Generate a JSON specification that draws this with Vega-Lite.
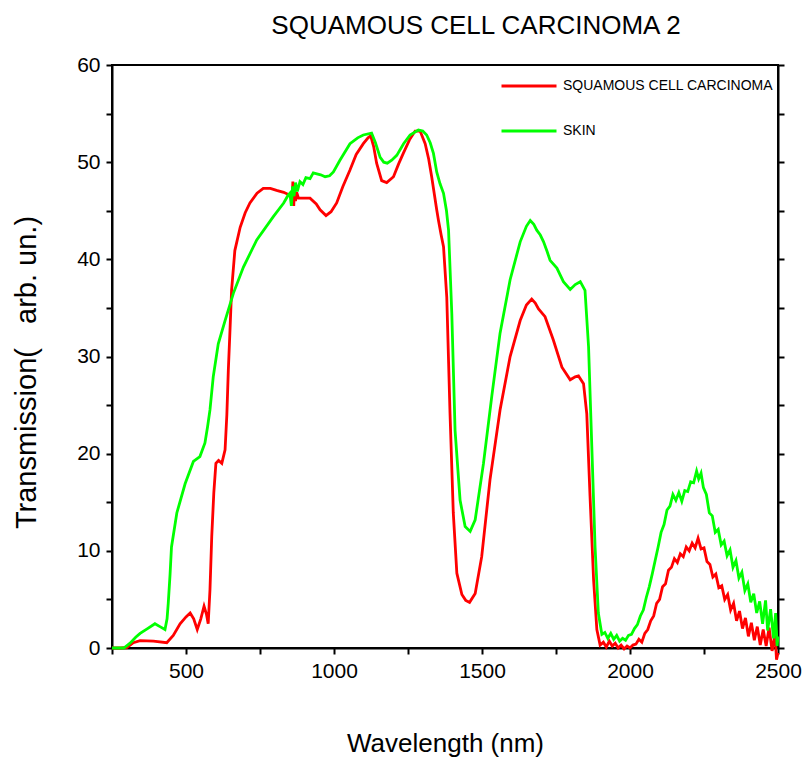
{
  "$schema": "https://vega.github.io/schema/vega-lite/v6.json",
  "width": 666,
  "height": 583,
  "autosize": "none",
  "padding": {"left": 112, "top": 65, "right": 25, "bottom": 114},
  "background": "white",
  "config": {
    "font": "Liberation Sans",
    "view": {"stroke": "black", "strokeWidth": 2},
    "axis": {"grid": false, "domainColor": "black", "domainWidth": 2, "tickColor": "black", "tickWidth": 2, "tickSize": 6, "labelColor": "black", "titleColor": "black", "labelFont": "Liberation Sans", "titleFont": "Liberation Sans", "labelFontSize": 21, "titleFontSize": 26, "titleFontWeight": "normal"}
  },
  "title": {"text": "SQUAMOUS CELL CARCINOMA 2", "font": "Liberation Sans", "fontSize": 26, "fontWeight": "normal", "color": "black", "anchor": "middle", "dx": 31, "offset": 15, "frame": "group"},
  "data": {"values": [
    {"w":250,"t":0,"s":"SQUAMOUS CELL CARCINOMA"},{"w":280,"t":0,"s":"SQUAMOUS CELL CARCINOMA"},{"w":300,"t":0.05,"s":"SQUAMOUS CELL CARCINOMA"},{"w":322,"t":0.55,"s":"SQUAMOUS CELL CARCINOMA"},{"w":345,"t":0.75,"s":"SQUAMOUS CELL CARCINOMA"},{"w":390,"t":0.7,"s":"SQUAMOUS CELL CARCINOMA"},{"w":435,"t":0.55,"s":"SQUAMOUS CELL CARCINOMA"},{"w":457,"t":1.3,"s":"SQUAMOUS CELL CARCINOMA"},{"w":480,"t":2.5,"s":"SQUAMOUS CELL CARCINOMA"},{"w":500,"t":3.2,"s":"SQUAMOUS CELL CARCINOMA"},{"w":514,"t":3.6,"s":"SQUAMOUS CELL CARCINOMA"},{"w":526,"t":3.0,"s":"SQUAMOUS CELL CARCINOMA"},{"w":538,"t":1.9,"s":"SQUAMOUS CELL CARCINOMA"},{"w":550,"t":3.0,"s":"SQUAMOUS CELL CARCINOMA"},{"w":561,"t":4.3,"s":"SQUAMOUS CELL CARCINOMA"},{"w":569,"t":3.5,"s":"SQUAMOUS CELL CARCINOMA"},{"w":575,"t":2.5,"s":"SQUAMOUS CELL CARCINOMA"},{"w":581,"t":6,"s":"SQUAMOUS CELL CARCINOMA"},{"w":587,"t":11.5,"s":"SQUAMOUS CELL CARCINOMA"},{"w":594,"t":16,"s":"SQUAMOUS CELL CARCINOMA"},{"w":601,"t":19.0,"s":"SQUAMOUS CELL CARCINOMA"},{"w":610,"t":19.3,"s":"SQUAMOUS CELL CARCINOMA"},{"w":621,"t":19.0,"s":"SQUAMOUS CELL CARCINOMA"},{"w":632,"t":20.4,"s":"SQUAMOUS CELL CARCINOMA"},{"w":638,"t":24,"s":"SQUAMOUS CELL CARCINOMA"},{"w":643,"t":28.6,"s":"SQUAMOUS CELL CARCINOMA"},{"w":649,"t":33,"s":"SQUAMOUS CELL CARCINOMA"},{"w":654,"t":36.8,"s":"SQUAMOUS CELL CARCINOMA"},{"w":665,"t":40.9,"s":"SQUAMOUS CELL CARCINOMA"},{"w":683,"t":43.3,"s":"SQUAMOUS CELL CARCINOMA"},{"w":700,"t":44.8,"s":"SQUAMOUS CELL CARCINOMA"},{"w":716,"t":45.8,"s":"SQUAMOUS CELL CARCINOMA"},{"w":740,"t":46.8,"s":"SQUAMOUS CELL CARCINOMA"},{"w":761,"t":47.3,"s":"SQUAMOUS CELL CARCINOMA"},{"w":785,"t":47.3,"s":"SQUAMOUS CELL CARCINOMA"},{"w":806,"t":47.1,"s":"SQUAMOUS CELL CARCINOMA"},{"w":830,"t":46.9,"s":"SQUAMOUS CELL CARCINOMA"},{"w":851,"t":46.6,"s":"SQUAMOUS CELL CARCINOMA"},{"w":855,"t":46.9,"s":"SQUAMOUS CELL CARCINOMA"},{"w":858,"t":45.8,"s":"SQUAMOUS CELL CARCINOMA"},{"w":861,"t":48.0,"s":"SQUAMOUS CELL CARCINOMA"},{"w":864,"t":45.5,"s":"SQUAMOUS CELL CARCINOMA"},{"w":867,"t":47.6,"s":"SQUAMOUS CELL CARCINOMA"},{"w":870,"t":46.0,"s":"SQUAMOUS CELL CARCINOMA"},{"w":874,"t":46.9,"s":"SQUAMOUS CELL CARCINOMA"},{"w":880,"t":46.3,"s":"SQUAMOUS CELL CARCINOMA"},{"w":900,"t":46.3,"s":"SQUAMOUS CELL CARCINOMA"},{"w":919,"t":46.3,"s":"SQUAMOUS CELL CARCINOMA"},{"w":940,"t":45.7,"s":"SQUAMOUS CELL CARCINOMA"},{"w":953,"t":45.1,"s":"SQUAMOUS CELL CARCINOMA"},{"w":973,"t":44.5,"s":"SQUAMOUS CELL CARCINOMA"},{"w":990,"t":44.9,"s":"SQUAMOUS CELL CARCINOMA"},{"w":1009,"t":45.8,"s":"SQUAMOUS CELL CARCINOMA"},{"w":1030,"t":47.5,"s":"SQUAMOUS CELL CARCINOMA"},{"w":1054,"t":49.2,"s":"SQUAMOUS CELL CARCINOMA"},{"w":1075,"t":50.8,"s":"SQUAMOUS CELL CARCINOMA"},{"w":1099,"t":51.9,"s":"SQUAMOUS CELL CARCINOMA"},{"w":1115,"t":52.5,"s":"SQUAMOUS CELL CARCINOMA"},{"w":1124,"t":52.7,"s":"SQUAMOUS CELL CARCINOMA"},{"w":1134,"t":51.6,"s":"SQUAMOUS CELL CARCINOMA"},{"w":1144,"t":49.9,"s":"SQUAMOUS CELL CARCINOMA"},{"w":1161,"t":48.1,"s":"SQUAMOUS CELL CARCINOMA"},{"w":1178,"t":47.9,"s":"SQUAMOUS CELL CARCINOMA"},{"w":1201,"t":48.5,"s":"SQUAMOUS CELL CARCINOMA"},{"w":1218,"t":49.8,"s":"SQUAMOUS CELL CARCINOMA"},{"w":1234,"t":50.9,"s":"SQUAMOUS CELL CARCINOMA"},{"w":1255,"t":52.3,"s":"SQUAMOUS CELL CARCINOMA"},{"w":1274,"t":53.2,"s":"SQUAMOUS CELL CARCINOMA"},{"w":1291,"t":53.2,"s":"SQUAMOUS CELL CARCINOMA"},{"w":1308,"t":51.9,"s":"SQUAMOUS CELL CARCINOMA"},{"w":1320,"t":50.3,"s":"SQUAMOUS CELL CARCINOMA"},{"w":1330,"t":48.5,"s":"SQUAMOUS CELL CARCINOMA"},{"w":1347,"t":45.1,"s":"SQUAMOUS CELL CARCINOMA"},{"w":1353,"t":44.0,"s":"SQUAMOUS CELL CARCINOMA"},{"w":1362,"t":42.5,"s":"SQUAMOUS CELL CARCINOMA"},{"w":1370,"t":41.3,"s":"SQUAMOUS CELL CARCINOMA"},{"w":1381,"t":36.1,"s":"SQUAMOUS CELL CARCINOMA"},{"w":1392,"t":24.1,"s":"SQUAMOUS CELL CARCINOMA"},{"w":1403,"t":13.9,"s":"SQUAMOUS CELL CARCINOMA"},{"w":1415,"t":7.7,"s":"SQUAMOUS CELL CARCINOMA"},{"w":1432,"t":5.5,"s":"SQUAMOUS CELL CARCINOMA"},{"w":1445,"t":4.9,"s":"SQUAMOUS CELL CARCINOMA"},{"w":1458,"t":4.7,"s":"SQUAMOUS CELL CARCINOMA"},{"w":1477,"t":5.6,"s":"SQUAMOUS CELL CARCINOMA"},{"w":1499,"t":9.4,"s":"SQUAMOUS CELL CARCINOMA"},{"w":1527,"t":17.3,"s":"SQUAMOUS CELL CARCINOMA"},{"w":1561,"t":24.5,"s":"SQUAMOUS CELL CARCINOMA"},{"w":1595,"t":30.0,"s":"SQUAMOUS CELL CARCINOMA"},{"w":1629,"t":33.7,"s":"SQUAMOUS CELL CARCINOMA"},{"w":1650,"t":35.3,"s":"SQUAMOUS CELL CARCINOMA"},{"w":1668,"t":35.9,"s":"SQUAMOUS CELL CARCINOMA"},{"w":1680,"t":35.5,"s":"SQUAMOUS CELL CARCINOMA"},{"w":1691,"t":34.9,"s":"SQUAMOUS CELL CARCINOMA"},{"w":1713,"t":34.1,"s":"SQUAMOUS CELL CARCINOMA"},{"w":1741,"t":31.7,"s":"SQUAMOUS CELL CARCINOMA"},{"w":1770,"t":28.9,"s":"SQUAMOUS CELL CARCINOMA"},{"w":1798,"t":27.6,"s":"SQUAMOUS CELL CARCINOMA"},{"w":1815,"t":27.9,"s":"SQUAMOUS CELL CARCINOMA"},{"w":1826,"t":28.0,"s":"SQUAMOUS CELL CARCINOMA"},{"w":1843,"t":27.2,"s":"SQUAMOUS CELL CARCINOMA"},{"w":1854,"t":24.1,"s":"SQUAMOUS CELL CARCINOMA"},{"w":1865,"t":15.6,"s":"SQUAMOUS CELL CARCINOMA"},{"w":1877,"t":7.0,"s":"SQUAMOUS CELL CARCINOMA"},{"w":1888,"t":1.9,"s":"SQUAMOUS CELL CARCINOMA"},{"w":1899,"t":0.3,"s":"SQUAMOUS CELL CARCINOMA"},
    {"w":1910,"t":0.6,"s":"SQUAMOUS CELL CARCINOMA"},{"w":1920,"t":0.1,"s":"SQUAMOUS CELL CARCINOMA"},{"w":1930,"t":0.7,"s":"SQUAMOUS CELL CARCINOMA"},{"w":1940,"t":0.2,"s":"SQUAMOUS CELL CARCINOMA"},{"w":1950,"t":0.5,"s":"SQUAMOUS CELL CARCINOMA"},{"w":1960,"t":0.0,"s":"SQUAMOUS CELL CARCINOMA"},{"w":1970,"t":0.3,"s":"SQUAMOUS CELL CARCINOMA"},{"w":1980,"t":-0.1,"s":"SQUAMOUS CELL CARCINOMA"},{"w":1990,"t":0.2,"s":"SQUAMOUS CELL CARCINOMA"},{"w":2000,"t":0.0,"s":"SQUAMOUS CELL CARCINOMA"},{"w":2010,"t":0.3,"s":"SQUAMOUS CELL CARCINOMA"},{"w":2020,"t":0.4,"s":"SQUAMOUS CELL CARCINOMA"},{"w":2030,"t":0.9,"s":"SQUAMOUS CELL CARCINOMA"},{"w":2040,"t":0.6,"s":"SQUAMOUS CELL CARCINOMA"},{"w":2050,"t":1.5,"s":"SQUAMOUS CELL CARCINOMA"},{"w":2060,"t":1.9,"s":"SQUAMOUS CELL CARCINOMA"},{"w":2070,"t":2.8,"s":"SQUAMOUS CELL CARCINOMA"},{"w":2080,"t":3.3,"s":"SQUAMOUS CELL CARCINOMA"},{"w":2090,"t":4.6,"s":"SQUAMOUS CELL CARCINOMA"},{"w":2100,"t":5.0,"s":"SQUAMOUS CELL CARCINOMA"},{"w":2110,"t":6.3,"s":"SQUAMOUS CELL CARCINOMA"},{"w":2120,"t":6.6,"s":"SQUAMOUS CELL CARCINOMA"},{"w":2130,"t":8.0,"s":"SQUAMOUS CELL CARCINOMA"},{"w":2140,"t":8.3,"s":"SQUAMOUS CELL CARCINOMA"},{"w":2150,"t":9.2,"s":"SQUAMOUS CELL CARCINOMA"},{"w":2160,"t":8.8,"s":"SQUAMOUS CELL CARCINOMA"},{"w":2170,"t":9.7,"s":"SQUAMOUS CELL CARCINOMA"},{"w":2180,"t":9.4,"s":"SQUAMOUS CELL CARCINOMA"},{"w":2190,"t":10.4,"s":"SQUAMOUS CELL CARCINOMA"},{"w":2200,"t":10.0,"s":"SQUAMOUS CELL CARCINOMA"},{"w":2210,"t":10.8,"s":"SQUAMOUS CELL CARCINOMA"},{"w":2220,"t":10.3,"s":"SQUAMOUS CELL CARCINOMA"},{"w":2230,"t":11.3,"s":"SQUAMOUS CELL CARCINOMA"},{"w":2240,"t":10.2,"s":"SQUAMOUS CELL CARCINOMA"},{"w":2250,"t":10.3,"s":"SQUAMOUS CELL CARCINOMA"},{"w":2260,"t":8.9,"s":"SQUAMOUS CELL CARCINOMA"},{"w":2270,"t":8.6,"s":"SQUAMOUS CELL CARCINOMA"},{"w":2280,"t":7.3,"s":"SQUAMOUS CELL CARCINOMA"},{"w":2290,"t":7.6,"s":"SQUAMOUS CELL CARCINOMA"},{"w":2300,"t":6.2,"s":"SQUAMOUS CELL CARCINOMA"},{"w":2310,"t":6.4,"s":"SQUAMOUS CELL CARCINOMA"},{"w":2320,"t":5.0,"s":"SQUAMOUS CELL CARCINOMA"},{"w":2330,"t":5.5,"s":"SQUAMOUS CELL CARCINOMA"},{"w":2340,"t":3.9,"s":"SQUAMOUS CELL CARCINOMA"},{"w":2350,"t":4.6,"s":"SQUAMOUS CELL CARCINOMA"},{"w":2360,"t":2.8,"s":"SQUAMOUS CELL CARCINOMA"},{"w":2370,"t":3.8,"s":"SQUAMOUS CELL CARCINOMA"},{"w":2380,"t":2.0,"s":"SQUAMOUS CELL CARCINOMA"},{"w":2390,"t":3.1,"s":"SQUAMOUS CELL CARCINOMA"},{"w":2400,"t":1.2,"s":"SQUAMOUS CELL CARCINOMA"},{"w":2410,"t":2.6,"s":"SQUAMOUS CELL CARCINOMA"},{"w":2420,"t":0.8,"s":"SQUAMOUS CELL CARCINOMA"},{"w":2430,"t":2.2,"s":"SQUAMOUS CELL CARCINOMA"},{"w":2440,"t":0.3,"s":"SQUAMOUS CELL CARCINOMA"},{"w":2450,"t":1.9,"s":"SQUAMOUS CELL CARCINOMA"},{"w":2460,"t":0.2,"s":"SQUAMOUS CELL CARCINOMA"},{"w":2470,"t":2.1,"s":"SQUAMOUS CELL CARCINOMA"},{"w":2480,"t":-0.3,"s":"SQUAMOUS CELL CARCINOMA"},{"w":2490,"t":1.5,"s":"SQUAMOUS CELL CARCINOMA"},{"w":2495,"t":-1.2,"s":"SQUAMOUS CELL CARCINOMA"},{"w":2500,"t":-0.5,"s":"SQUAMOUS CELL CARCINOMA"},
    {"w":250,"t":0,"s":"SKIN"},{"w":290,"t":0,"s":"SKIN"},{"w":311,"t":0.5,"s":"SKIN"},{"w":330,"t":1.1,"s":"SKIN"},{"w":345,"t":1.5,"s":"SKIN"},{"w":370,"t":2.0,"s":"SKIN"},{"w":395,"t":2.5,"s":"SKIN"},{"w":412,"t":2.2,"s":"SKIN"},{"w":429,"t":1.9,"s":"SKIN"},{"w":436,"t":3,"s":"SKIN"},{"w":440,"t":4.6,"s":"SKIN"},{"w":446,"t":7.5,"s":"SKIN"},{"w":451,"t":10.4,"s":"SKIN"},{"w":469,"t":13.9,"s":"SKIN"},{"w":497,"t":16.9,"s":"SKIN"},{"w":525,"t":19.2,"s":"SKIN"},{"w":547,"t":19.7,"s":"SKIN"},{"w":564,"t":21.1,"s":"SKIN"},{"w":573,"t":22.8,"s":"SKIN"},{"w":581,"t":24.5,"s":"SKIN"},{"w":592,"t":27.9,"s":"SKIN"},{"w":609,"t":31.3,"s":"SKIN"},{"w":632,"t":33.7,"s":"SKIN"},{"w":660,"t":36.5,"s":"SKIN"},{"w":694,"t":39.2,"s":"SKIN"},{"w":739,"t":42.0,"s":"SKIN"},{"w":795,"t":44.4,"s":"SKIN"},{"w":830,"t":45.8,"s":"SKIN"},{"w":845,"t":46.6,"s":"SKIN"},{"w":851,"t":46.8,"s":"SKIN"},{"w":856,"t":45.5,"s":"SKIN"},{"w":860,"t":47.5,"s":"SKIN"},{"w":865,"t":46.5,"s":"SKIN"},{"w":870,"t":47.9,"s":"SKIN"},{"w":876,"t":47.0,"s":"SKIN"},{"w":885,"t":48.0,"s":"SKIN"},{"w":895,"t":47.7,"s":"SKIN"},{"w":905,"t":48.4,"s":"SKIN"},{"w":919,"t":48.3,"s":"SKIN"},{"w":930,"t":48.9,"s":"SKIN"},{"w":942,"t":48.8,"s":"SKIN"},{"w":955,"t":48.7,"s":"SKIN"},{"w":970,"t":48.5,"s":"SKIN"},{"w":985,"t":48.6,"s":"SKIN"},{"w":998,"t":49.0,"s":"SKIN"},{"w":1020,"t":50.2,"s":"SKIN"},{"w":1054,"t":51.9,"s":"SKIN"},{"w":1080,"t":52.5,"s":"SKIN"},{"w":1099,"t":52.8,"s":"SKIN"},{"w":1127,"t":53.0,"s":"SKIN"},{"w":1140,"t":52.0,"s":"SKIN"},{"w":1156,"t":50.5,"s":"SKIN"},{"w":1168,"t":50.0,"s":"SKIN"},{"w":1180,"t":49.9,"s":"SKIN"},{"w":1195,"t":50.2,"s":"SKIN"},{"w":1212,"t":50.7,"s":"SKIN"},{"w":1235,"t":51.9,"s":"SKIN"},{"w":1257,"t":52.8,"s":"SKIN"},{"w":1285,"t":53.3,"s":"SKIN"},{"w":1300,"t":53.2,"s":"SKIN"},{"w":1313,"t":52.8,"s":"SKIN"},{"w":1325,"t":52.0,"s":"SKIN"},{"w":1336,"t":50.9,"s":"SKIN"},{"w":1347,"t":49.0,"s":"SKIN"},{"w":1358,"t":47.8,"s":"SKIN"},{"w":1370,"t":46.8,"s":"SKIN"},{"w":1380,"t":45.0,"s":"SKIN"},{"w":1387,"t":43.0,"s":"SKIN"},{"w":1398,"t":34.4,"s":"SKIN"},{"w":1409,"t":22.4,"s":"SKIN"},{"w":1426,"t":15.2,"s":"SKIN"},{"w":1443,"t":12.5,"s":"SKIN"},{"w":1460,"t":12.0,"s":"SKIN"},{"w":1477,"t":13.2,"s":"SKIN"},{"w":1505,"t":19.0,"s":"SKIN"},{"w":1533,"t":25.9,"s":"SKIN"},{"w":1561,"t":32.4,"s":"SKIN"},{"w":1595,"t":37.9,"s":"SKIN"},{"w":1629,"t":41.8,"s":"SKIN"},{"w":1650,"t":43.4,"s":"SKIN"},{"w":1663,"t":44.0,"s":"SKIN"},{"w":1675,"t":43.6,"s":"SKIN"},{"w":1685,"t":43.0,"s":"SKIN"},{"w":1697,"t":42.5,"s":"SKIN"},{"w":1708,"t":41.8,"s":"SKIN"},{"w":1720,"t":40.8,"s":"SKIN"},{"w":1730,"t":39.9,"s":"SKIN"},{"w":1753,"t":39.1,"s":"SKIN"},{"w":1775,"t":37.7,"s":"SKIN"},{"w":1798,"t":36.9,"s":"SKIN"},{"w":1815,"t":37.4,"s":"SKIN"},{"w":1832,"t":37.7,"s":"SKIN"},{"w":1848,"t":36.8,"s":"SKIN"},{"w":1860,"t":31.0,"s":"SKIN"},{"w":1871,"t":20.7,"s":"SKIN"},{"w":1882,"t":10.4,"s":"SKIN"},{"w":1893,"t":3.6,"s":"SKIN"},{"w":1905,"t":1.4,"s":"SKIN"},
    {"w":1915,"t":1.6,"s":"SKIN"},{"w":1925,"t":1.0,"s":"SKIN"},{"w":1935,"t":1.5,"s":"SKIN"},{"w":1945,"t":0.9,"s":"SKIN"},{"w":1955,"t":1.3,"s":"SKIN"},{"w":1965,"t":0.7,"s":"SKIN"},{"w":1975,"t":1.0,"s":"SKIN"},{"w":1985,"t":0.8,"s":"SKIN"},{"w":1995,"t":1.3,"s":"SKIN"},{"w":2005,"t":1.4,"s":"SKIN"},{"w":2015,"t":2.0,"s":"SKIN"},{"w":2025,"t":2.4,"s":"SKIN"},{"w":2035,"t":3.3,"s":"SKIN"},{"w":2045,"t":3.9,"s":"SKIN"},{"w":2055,"t":5.2,"s":"SKIN"},{"w":2065,"t":6.3,"s":"SKIN"},{"w":2075,"t":7.6,"s":"SKIN"},{"w":2085,"t":9.0,"s":"SKIN"},{"w":2095,"t":10.4,"s":"SKIN"},{"w":2105,"t":11.9,"s":"SKIN"},{"w":2115,"t":12.7,"s":"SKIN"},{"w":2125,"t":14.2,"s":"SKIN"},{"w":2135,"t":14.6,"s":"SKIN"},{"w":2145,"t":15.8,"s":"SKIN"},{"w":2155,"t":15.2,"s":"SKIN"},{"w":2165,"t":16.0,"s":"SKIN"},{"w":2175,"t":15.1,"s":"SKIN"},{"w":2185,"t":16.2,"s":"SKIN"},{"w":2195,"t":16.1,"s":"SKIN"},{"w":2205,"t":17.1,"s":"SKIN"},{"w":2215,"t":17.0,"s":"SKIN"},{"w":2225,"t":18.2,"s":"SKIN"},{"w":2232,"t":17.4,"s":"SKIN"},{"w":2240,"t":18.0,"s":"SKIN"},{"w":2248,"t":16.5,"s":"SKIN"},{"w":2258,"t":15.8,"s":"SKIN"},{"w":2268,"t":13.9,"s":"SKIN"},{"w":2278,"t":13.6,"s":"SKIN"},{"w":2288,"t":11.9,"s":"SKIN"},{"w":2298,"t":12.2,"s":"SKIN"},{"w":2308,"t":10.6,"s":"SKIN"},{"w":2318,"t":11.0,"s":"SKIN"},{"w":2328,"t":9.5,"s":"SKIN"},{"w":2338,"t":10.1,"s":"SKIN"},{"w":2348,"t":8.3,"s":"SKIN"},{"w":2358,"t":9.0,"s":"SKIN"},{"w":2368,"t":7.2,"s":"SKIN"},{"w":2378,"t":7.8,"s":"SKIN"},{"w":2388,"t":5.9,"s":"SKIN"},{"w":2398,"t":6.6,"s":"SKIN"},{"w":2408,"t":4.7,"s":"SKIN"},{"w":2418,"t":5.6,"s":"SKIN"},{"w":2428,"t":3.6,"s":"SKIN"},{"w":2438,"t":4.8,"s":"SKIN"},{"w":2448,"t":2.5,"s":"SKIN"},{"w":2458,"t":4.9,"s":"SKIN"},{"w":2465,"t":1.8,"s":"SKIN"},{"w":2475,"t":4.0,"s":"SKIN"},{"w":2485,"t":1.0,"s":"SKIN"},{"w":2492,"t":3.6,"s":"SKIN"},{"w":2497,"t":0.2,"s":"SKIN"},{"w":2500,"t":1.2,"s":"SKIN"}
  ]},
  "layer": [
    {
      "mark": {"type": "line", "strokeWidth": 2.8, "clip": false},
      "encoding": {
        "x": {"field": "w", "type": "quantitative", "scale": {"domain": [250, 2500], "nice": false, "zero": false},
              "axis": {"title": "Wavelength (nm)", "format": "d", "values": [250,500,750,1000,1250,1500,1750,2000,2250,2500], "labelExpr": "datum.value % 500 == 0 ? datum.label : ''", "labelPadding": 6, "titlePadding": 49, "labelFlush": false}},
        "y": {"field": "t", "type": "quantitative", "scale": {"domain": [0, 60], "nice": false},
              "axis": {"title": "Transmission(\u00a0\u00a0 arb. un.)", "titleFontSize": 29, "titleY": 307, "format": "d", "values": [0,5,10,15,20,25,30,35,40,45,50,55,60], "labelExpr": "datum.value % 10 == 0 ? datum.label : ''", "labelPadding": 6, "titlePadding": 35, "labelFlush": false}},
        "color": {"field": "s", "type": "nominal",
                  "scale": {"domain": ["SQUAMOUS CELL CARCINOMA", "SKIN"], "range": ["#ff0000", "#00ff00"]},
                  "legend": {"title": null, "orient": "none", "legendX": 388, "legendY": -8, "symbolType": "stroke", "symbolSize": 3025, "symbolStrokeWidth": 2.8, "labelFontSize": 14, "labelFont": "Liberation Sans", "labelColor": "black", "labelOffset": 5, "labelLimit": 400, "rowPadding": 9}}
      }
    },
    {
      "mark": {"type": "line", "strokeWidth": 0, "opacity": 0},
      "encoding": {
        "x": {"field": "w", "type": "quantitative", "scale": {"domain": [250, 2500], "nice": false, "zero": false},
              "axis": {"title": "Wavelength (nm)", "format": "d", "values": [250,500,750,1000,1250,1500,1750,2000,2250,2500], "labelExpr": "datum.value % 500 == 0 ? datum.label : ''", "labelPadding": 6, "titlePadding": 49, "labelFlush": false}},
        "y": {"field": "t", "type": "quantitative", "scale": {"domain": [0, 60], "nice": false},
              "axis": {"orient": "right", "title": null, "labels": false, "values": [0,5,10,15,20,25,30,35,40,45,50,55,60]}}
      }
    }
  ],
  "resolve": {"axis": {"y": "independent"}}
}
